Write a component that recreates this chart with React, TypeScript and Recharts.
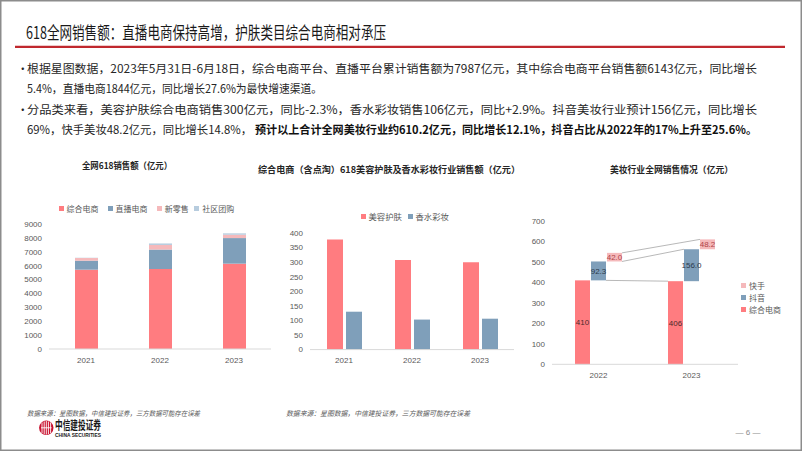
import React from 'react';
import { BarChart, Bar, XAxis, YAxis, LabelList } from 'recharts';

// ---------------- Data ----------------
const years1 = ['2021', '2022', '2023'];
const zongheSales = [5710, 5760, 6143];
const zhiboSales = [650, 1400, 1844];
const xinlingshouSales = [190, 330, 240];
const shequSales = [20, 110, 100];
const ticks1 = [0, 1000, 2000, 3000, 4000, 5000, 6000, 7000, 8000, 9000];
const legend1 = ['综合电商', '直播电商', '新零售', '社区团购'];

const years2 = ['2021', '2022', '2023'];
const skincare = [378, 307, 300];
const fragrance = [130, 103, 106];
const ticks2 = [0, 50, 100, 150, 200, 250, 300, 350, 400];
const legend2 = ['美容护肤', '香水彩妆'];

const years3 = ['2022', '2023'];
const beautyZonghe = [410, 406];
const beautyDouyin = [92.3, 156.0];
const beautyKuaishou = [42.0, 48.2];
const ticks3 = [0, 100, 200, 300, 400, 500, 600, 700];
const legend3 = ['快手', '抖音', '综合电商'];

// ---------------- Styles ----------------
const RED = '#FF7C80';
const BLUE = '#7F9FBA';
const PINK = '#F5B9BB';
const LBLUE = '#B7CCDE';
const CJK = '"Noto Sans CJK SC", "Noto Sans", sans-serif';
const NUM = '"Liberation Sans", Arial, sans-serif';
const tickStyle = { fontSize: 8, fill: '#595959', fontFamily: NUM };

const table1 = years1.map((year, i) => ({
  year,
  zh: zongheSales[i],
  zb: zhiboSales[i],
  xl: xinlingshouSales[i],
  sq: shequSales[i],
}));

const table2 = years2.map((year, i) => ({ year, sk: skincare[i], fr: fragrance[i] }));

const table3 = years3.map((year, i) => {
  const a = beautyZonghe[i];
  const b = beautyDouyin[i];
  const c = beautyKuaishou[i];
  return {
    year,
    zh: [0, a],
    dy: [a, +(a + b).toFixed(1)],
    ks: [+(a + b).toFixed(1), +(a + b + c).toFixed(1)],
    zhV: a,
    dyV: b,
    ksV: c,
  };
});

// chart 3 layout
const C3 = { width: 228, height: 200, margin: { top: 31, right: 10, bottom: 6, left: 0 }, yw: 32 };
const band3 = (C3.width - C3.margin.left - C3.margin.right - C3.yw) / years3.length;
const GAP3 = 1;
const SIZE3 = 15;

const makeShape = (series: number) => (props: any) => {
  const { x, y, width, height, payload, fill } = props;
  const top = Math.min(y, y + height);
  const h = Math.abs(height);
  const key = ['zh', 'dy', 'ks'][series];
  const i = years3.indexOf(payload.year);
  const [lo, hi] = payload[key];
  let line: any = null;
  if (i > 0 && hi > lo) {
    const ppu = h / (hi - lo);
    const base = top + h + lo * ppu;
    const yOf = (v: number) => base - v * ppu;
    const prev = table3[i - 1];
    const prevX = x - band3;
    let tx = 0;
    let tv = 0;
    if (series === 0) {
      tx = prevX + 2 * width + GAP3;
      tv = prev.dy[0];
    } else if (series === 1) {
      tx = prevX + 2 * width + GAP3;
      tv = prev.ks[0];
    } else {
      tx = prevX + width;
      tv = prev.ks[1];
    }
    line = <line x1={tx} y1={yOf(tv)} x2={x} y2={top} stroke="#A6A6A6" strokeWidth={0.8} />;
  }
  return (
    <g>
      <rect x={x} y={top} width={width} height={h} fill={fill} />
      {line}
    </g>
  );
};

// ---------------- Legend (HTML) ----------------
type LegItem = { x: number; y: number; color: string; label: string };
const Legend = ({ items, fontSize }: { items: LegItem[]; fontSize: number }) => (
  <>
    {items.map((it) => (
      <div
        key={it.label}
        style={{
          position: 'absolute',
          left: it.x,
          top: it.y - 7,
          height: 14,
          display: 'flex',
          alignItems: 'center',
          whiteSpace: 'nowrap',
          fontFamily: CJK,
          fontSize,
          color: '#595959',
          lineHeight: '14px',
        }}
      >
        <span style={{ display: 'inline-block', width: 5, height: 5, background: it.color, marginRight: 3 }} />
        {it.label}
      </div>
    ))}
  </>
);

const legendColors1 = [RED, BLUE, PINK, LBLUE];
const legendX1 = [58.5, 107.5, 156.8, 194.2];
const legendColors2 = [RED, BLUE];
const legendX2 = [360.5, 407.5];
const legendColors3 = [PINK, BLUE, RED];
const legendY3 = [285.5, 297.5, 309.5];

export default function App() {
  return (
    <div
      style={{
        position: 'absolute',
        left: 0,
        top: 0,
        width: 802,
        height: 451,
        background: '#fff',
        overflow: 'hidden',
        fontFamily: CJK,
      }}
    >
      <svg width={802} height={451} style={{ position: 'absolute', left: 0, top: 0 }}>
        <rect x={0.75} y={0.75} width={800.5} height={449.5} fill="none" stroke="#8c8c8c" strokeWidth={1.5} />
        {/* Title */}
        <text x={26} y={38.5} fontSize={17} fontFamily={CJK} fill="#1a1a1a" textLength={360} lengthAdjust="spacingAndGlyphs">
          618全网销售额：直播电商保持高增，护肤类目综合电商相对承压
        </text>
        <line x1={15} y1={46.8} x2={785} y2={46.8} stroke="#C0282E" strokeWidth={2.2} />

        {/* Bullets */}
        <g fontFamily={CJK} fontSize={11.5} fill="#262626">
          <text x={17} y={72.5}>•</text>
          <text x={27} y={73} textLength={730} lengthAdjust="spacingAndGlyphs">
            根据星图数据，2023年5月31日-6月18日，综合电商平台、直播平台累计销售额为7987亿元，其中综合电商平台销售额6143亿元，同比增长
          </text>
          <text x={27} y={93} textLength={295} lengthAdjust="spacingAndGlyphs">
            5.4%，直播电商1844亿元，同比增长27.6%为最快增速渠道。
          </text>
          <text x={17} y={113.5}>•</text>
          <text x={27} y={114} textLength={730} lengthAdjust="spacingAndGlyphs">
            分品类来看，美容护肤综合电商销售300亿元，同比-2.3%，香水彩妆销售106亿元，同比+2.9%。抖音美妆行业预计156亿元，同比增长
          </text>
          <text x={27} y={134} textLength={225} lengthAdjust="spacingAndGlyphs">
            69%，快手美妆48.2亿元，同比增长14.8%，
          </text>
          <text x={255} y={134} textLength={502} lengthAdjust="spacingAndGlyphs" fontWeight="bold" fill="#111">
            预计以上合计全网美妆行业约610.2亿元，同比增长12.1%，抖音占比从2022年的17%上升至25.6%。
          </text>
        </g>

        {/* Chart titles */}
        <g fontFamily={CJK} fontSize={9} fontWeight="bold" fill="#262626" textAnchor="middle">
          <text x={127} y={168.5} textLength={90} lengthAdjust="spacingAndGlyphs">全网618销售额（亿元）</text>
          <text x={389} y={172.5} textLength={262} lengthAdjust="spacingAndGlyphs">
            综合电商（含点淘）618美容护肤及香水彩妆行业销售额（亿元）
          </text>
          <text x={671.5} y={172.5} textLength={123} lengthAdjust="spacingAndGlyphs">美妆行业全网销售情况（亿元）</text>
        </g>

        {/* Footer */}
        <g fontFamily={CJK} fontSize={7} fontStyle="italic" fill="#595959">
          <text x={27} y={415.5} textLength={173} lengthAdjust="spacingAndGlyphs">
            数据来源：星图数据，中信建投证券，三方数据可能存在误差
          </text>
          <text x={286} y={415.5} textLength={184} lengthAdjust="spacingAndGlyphs">
            数据来源：星图数据，中信建投证券，三方数据可能存在误差
          </text>
        </g>
        <g>
          <circle cx={46.3} cy={427.8} r={7.2} fill="#C8102E" />
          <path d="M42 422.5 v10.5 M44.2 421.5 v12.5 M46.3 421 v13.5 M48.4 421.5 v12.5 M50.6 422.5 v10.5" stroke="#fff" strokeWidth={0.9} />
          <path d="M41 427.8 h10.6" stroke="#fff" strokeWidth={0.9} />
          <text x={55} y={430} fontFamily={CJK} fontSize={12} fontWeight="bold" fill="#1a1a1a" textLength={46} lengthAdjust="spacingAndGlyphs">
            中信建投证券
          </text>
          <text x={55} y={436.8} fontFamily={NUM} fontSize={6} fontWeight="bold" fill="#1a1a1a" textLength={46} lengthAdjust="spacingAndGlyphs">
            CHINA SECURITIES
          </text>
        </g>
        <text x={748} y={435} fontFamily={NUM} fontSize={8} fill="#8c8c8c" textAnchor="middle">
          — 6 —
        </text>
      </svg>

      {/* Chart 1 */}
      <Legend
        fontSize={8}
        items={legend1.map((label, i) => ({ label, color: legendColors1[i], x: legendX1[i], y: 208.7 }))}
      />
      <div style={{ position: 'absolute', left: 10, top: 190 }}>
        <BarChart width={271} height={180} data={table1} margin={{ top: 34, right: 10, bottom: 5, left: 0 }} barSize={23}>
          <XAxis
            dataKey="year"
            tickLine={false}
            axisLine={{ stroke: '#D9D9D9' }}
            tick={tickStyle}
            tickSize={0}
            tickMargin={8}
            height={16}
          />
          <YAxis
            domain={[0, 9000]}
            ticks={ticks1}
            interval={0}
            axisLine={false}
            tickLine={false}
            tickSize={0}
            tickMargin={7}
            width={39}
            tick={tickStyle}
          />
          <Bar dataKey="zh" stackId="s" fill={RED} isAnimationActive={false} />
          <Bar dataKey="zb" stackId="s" fill={BLUE} isAnimationActive={false} />
          <Bar dataKey="xl" stackId="s" fill={PINK} isAnimationActive={false} />
          <Bar dataKey="sq" stackId="s" fill={LBLUE} isAnimationActive={false} />
        </BarChart>
      </div>

      {/* Chart 2 */}
      <Legend
        fontSize={8.4}
        items={legend2.map((label, i) => ({ label, color: legendColors2[i], x: legendX2[i], y: 216 }))}
      />
      <div style={{ position: 'absolute', left: 262, top: 190 }}>
        <BarChart
          width={262}
          height={180}
          data={table2}
          margin={{ top: 43, right: 10, bottom: 4.4, left: 0 }}
          barSize={16}
          barGap={3}
        >
          <XAxis
            dataKey="year"
            tickLine={false}
            axisLine={{ stroke: '#D9D9D9' }}
            tick={tickStyle}
            tickSize={0}
            tickMargin={8}
            height={16}
          />
          <YAxis
            domain={[0, 400]}
            ticks={ticks2}
            interval={0}
            axisLine={false}
            tickLine={false}
            tickSize={0}
            tickMargin={7}
            width={48}
            tick={tickStyle}
          />
          <Bar dataKey="sk" fill={RED} isAnimationActive={false} />
          <Bar dataKey="fr" fill={BLUE} isAnimationActive={false} />
        </BarChart>
      </div>

      {/* Chart 3 */}
      <Legend
        fontSize={8}
        items={legend3.map((label, i) => ({ label, color: legendColors3[i], x: 741, y: legendY3[i] }))}
      />
      <div style={{ position: 'absolute', left: 520, top: 190 }}>
        <BarChart
          width={C3.width}
          height={C3.height}
          data={table3}
          margin={C3.margin}
          barSize={SIZE3}
          barGap={GAP3}
        >
          <XAxis
            dataKey="year"
            tickLine={false}
            axisLine={{ stroke: '#D9D9D9' }}
            tick={tickStyle}
            tickSize={0}
            tickMargin={8}
            height={C3.height - C3.margin.top - C3.margin.bottom - 143.3}
          />
          <YAxis
            domain={[0, 700]}
            ticks={ticks3}
            interval={0}
            axisLine={false}
            tickLine={false}
            tickSize={0}
            tickMargin={7}
            width={C3.yw}
            tick={tickStyle}
          />
          <Bar dataKey="zh" fill={RED} isAnimationActive={false} shape={makeShape(0)}>
            <LabelList dataKey="zhV" position="center" fill="#4a2a2a" fontSize={8} fontFamily={NUM} formatter={(v: any) => String(v)} />
          </Bar>
          <Bar dataKey="dy" fill={BLUE} isAnimationActive={false} shape={makeShape(1)}>
            <LabelList dataKey="dyV" position="center" fill="#2b3a4c" fontSize={8} fontFamily={NUM} formatter={(v: any) => Number(v).toFixed(1)} />
          </Bar>
          <Bar dataKey="ks" fill={PINK} isAnimationActive={false} shape={makeShape(2)}>
            <LabelList dataKey="ksV" position="center" fill="#B0444A" fontSize={8} fontFamily={NUM} formatter={(v: any) => Number(v).toFixed(1)} />
          </Bar>
        </BarChart>
      </div>
    </div>
  );
}
